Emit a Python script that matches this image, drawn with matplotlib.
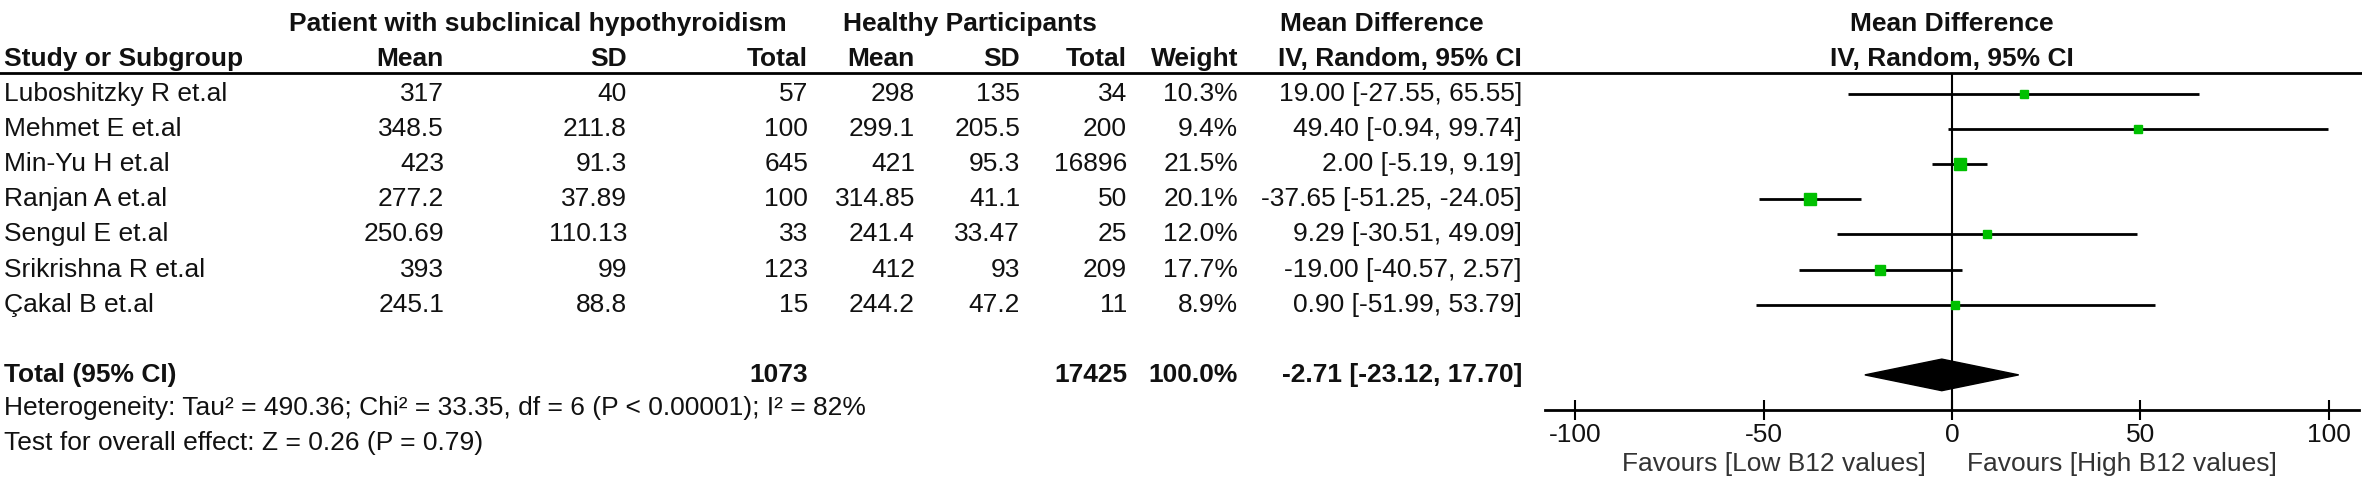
# 森林图 forest plot
import matplotlib.pyplot as plt
import numpy as np
from matplotlib.transforms import blended_transform_factory
from matplotlib.lines import Line2D

plt.rcParams['font.family'] = ['Liberation Sans', 'DejaVu Sans']

# 数据
studies = ['Luboshitzky R et.al', 'Mehmet E et.al', 'Min-Yu H et.al', 'Ranjan A et.al',
           'Sengul E et.al', 'Srikrishna R et.al', 'Çakal B et.al']
pat_mean = [317, 348.5, 423, 277.2, 250.69, 393, 245.1]
pat_sd = [40, 211.8, 91.3, 37.89, 110.13, 99, 88.8]
pat_n = [57, 100, 645, 100, 33, 123, 15]
hc_mean = [298, 299.1, 421, 314.85, 241.4, 412, 244.2]
hc_sd = [135, 205.5, 95.3, 41.1, 33.47, 93, 47.2]
hc_n = [34, 200, 16896, 50, 25, 209, 11]
weights = [10.3, 9.4, 21.5, 20.1, 12.0, 17.7, 8.9]
md = [19.00, 49.40, 2.00, -37.65, 9.29, -19.00, 0.90]
ci_lo = [-27.55, -0.94, -5.19, -51.25, -30.51, -40.57, -51.99]
ci_hi = [65.55, 99.74, 9.19, -24.05, 49.09, 2.57, 53.79]
total_pat_n = 1073
total_hc_n = 17425
total_md = -2.71
total_lo = -23.12
total_hi = 17.70
x_ticks = [-100, -50, 0, 50, 100]

W, H = 2362, 483
fig = plt.figure(figsize=(W / 100, H / 100), dpi=100)
# 右侧森林图区域
ax = fig.add_axes([1545 / W, 1 - 410 / H, 814 / W, 337 / H])
ax.set_xlim(-108, 108)
ax.set_ylim(9.0, -0.6)

rows = np.arange(len(studies))
total_row = 8
fs = 19
txt_color = '#111111'

# 置信区间和方块
for i in rows:
    ax.plot([ci_lo[i], ci_hi[i]], [i, i], color='black', lw=2, solid_capstyle='butt', zorder=2)
    ax.plot(md[i], i, marker='s', color='#00c000', markeredgecolor='#00c000',
            markersize=1.8 * np.sqrt(weights[i]), zorder=3)

# 合并效应的菱形
ax.fill([total_lo, total_md, total_hi, total_md], [total_row, total_row - 0.45, total_row, total_row + 0.45],
        color='black', zorder=3)
ax.axvline(0, color='black', lw=1.5, zorder=1)

for s in ['top', 'left', 'right']:
    ax.spines[s].set_visible(False)
ax.spines['bottom'].set_linewidth(2)
ax.set_yticks([])
ax.set_xticks(x_ticks)
ax.set_xticklabels([str(t) for t in x_ticks], fontsize=fs, color=txt_color)
ax.tick_params(axis='x', direction='inout', length=14, width=1.5, pad=2)

ax.text(-7, -0.16, 'Favours [Low B12 values]', transform=blended_transform_factory(ax.transData, ax.transAxes),
        ha='right', va='center', fontsize=fs, color='#333333')
ax.text(4, -0.16, 'Favours [High B12 values]', transform=blended_transform_factory(ax.transData, ax.transAxes),
        ha='left', va='center', fontsize=fs, color='#333333')

# 左侧表格文字
tr = blended_transform_factory(fig.transFigure, ax.transData)
def put(x, y, s, ha='right', bold=False):
    fig.text(x / W, y, s, transform=tr, ha=ha, va='center', fontsize=fs, color=txt_color,
             fontweight='bold' if bold else 'normal')

# 表头
put(538, -2, 'Patient with subclinical hypothyroidism', ha='center', bold=True)
put(970, -2, 'Healthy Participants', ha='center', bold=True)
put(1382, -2, 'Mean Difference', ha='center', bold=True)
put(1952, -2, 'Mean Difference', ha='center', bold=True)
put(4, -1, 'Study or Subgroup', ha='left', bold=True)
cols = [444, 627, 808, 915, 1020, 1127, 1238]
for x, h in zip(cols, ['Mean', 'SD', 'Total', 'Mean', 'SD', 'Total', 'Weight']):
    put(x, -1, h, bold=True)
put(1522, -1, 'IV, Random, 95% CI', bold=True)
put(1952, -1, 'IV, Random, 95% CI', ha='center', bold=True)
fig.add_artist(Line2D([0, 1], [1 - 73 / H, 1 - 73 / H], color='black', lw=2, transform=fig.transFigure))

for i in rows:
    put(4, i, studies[i], ha='left')
    vals = [pat_mean[i], pat_sd[i], pat_n[i], hc_mean[i], hc_sd[i], hc_n[i]]
    for x, v in zip(cols, vals):
        put(x, i, f'{v:g}')
    put(1238, i, f'{weights[i]:.1f}%')
    put(1522, i, f'{md[i]:.2f} [{ci_lo[i]:.2f}, {ci_hi[i]:.2f}]')

# 合计行
put(4, total_row, 'Total (95% CI)', ha='left', bold=True)
put(808, total_row, str(total_pat_n), bold=True)
put(1127, total_row, str(total_hc_n), bold=True)
put(1238, total_row, '100.0%', bold=True)
put(1522, total_row, f'{total_md:.2f} [{total_lo:.2f}, {total_hi:.2f}]', bold=True)
put(4, 8.95, 'Heterogeneity: Tau² = 490.36; Chi² = 33.35, df = 6 (P < 0.00001); I² = 82%', ha='left')
put(4, 9.95, 'Test for overall effect: Z = 0.26 (P = 0.79)', ha='left')

plt.savefig('out.png', dpi=100, facecolor='white')
